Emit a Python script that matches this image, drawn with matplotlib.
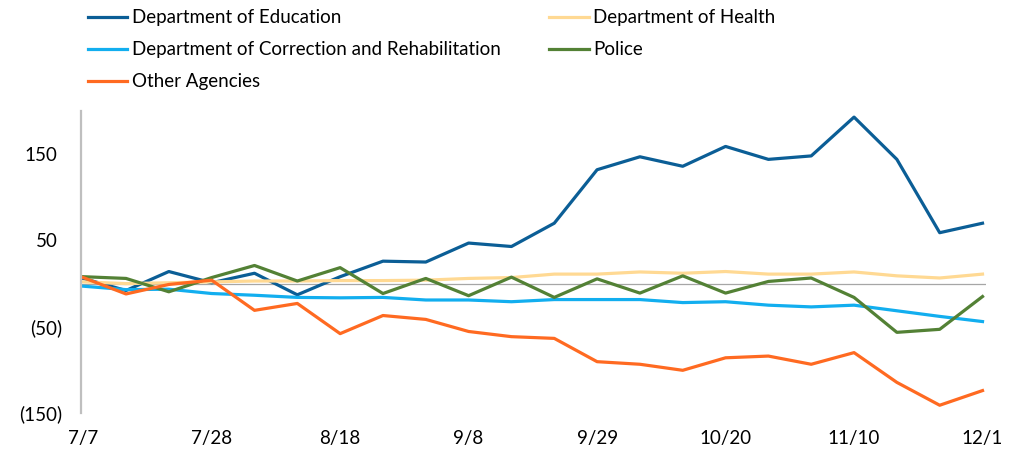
import numpy as np
import matplotlib.pyplot as plt
from matplotlib.transforms import ScaledTranslation

plt.rcParams['font.family'] = ['Lato', 'DejaVu Sans']

# fechas semanales del 7/7 al 12/1
fechas = ['7/7', '7/14', '7/21', '7/28', '8/4', '8/11', '8/18', '8/25', '9/1', '9/8', '9/15',
          '9/22', '9/29', '10/6', '10/13', '10/20', '10/27', '11/3', '11/10', '11/17', '11/24', '12/1']

educacion = [6, -8, 14, 1, 12, -13, 8, 26, 25, 47, 43, 70, 132, 147, 136, 159, 144, 148, 193, 144, 59, 70]
salud = [2, 0, 1, 2, 3, 3, 3.5, 3.5, 4, 6, 7, 11, 11, 13.5, 12, 14, 11, 11, 13.5, 9, 6.5, 11]
correccion = [-3, -7, -6.5, -11.5, -13.5, -16, -16.5, -16, -19, -19, -21, -18.5, -18.5, -18.5, -22, -21, -25, -27, -25, -31.5, -38, -44]
policia = [8, 6, -9.5, 7, 21, 3, 18.5, -11.5, 6, -14, 7.5, -16, 5.5, -11, 9, -11, 2.5, 6.5, -16, -56.5, -53, -15]
otras = [7, -12, -1, 4, -31, -23, -58, -37, -41.5, -55.5, -61.5, -63.5, -90.5, -93.5, -100.5, -86, -84, -93.5, -80, -114.5, -141, -124]

etiquetas_y = [-150, -50, 50, 150]

x = np.arange(len(fechas))

fig = plt.figure(figsize=(10.22, 4.5), dpi=100)
ax = fig.add_axes([0.0793, 0.0822, 0.885, 0.671])

lw = 2.3
l1, = ax.plot(x, educacion, color='#0B5E96', lw=lw, label='Department of Education')
l2, = ax.plot(x, salud, color='#FFD993', lw=lw, label='Department of Health')
l3, = ax.plot(x, correccion, color='#12AEEF', lw=lw, label='Department of Correction and Rehabilitation')
l4, = ax.plot(x, policia, color='#538135', lw=lw, label='Police')
l5, = ax.plot(x, otras, color='#FF6A21', lw=lw, label='Other Agencies')

# linea en cero
ax.axhline(0, color='#A6A6A6', lw=0.9, zorder=0)

ax.set_xlim(-0.05, 21.07)
ax.set_ylim(-150, 200)
ax.set_xticks(x[::3])
ax.set_xticklabels(fechas[::3])
ax.set_yticks(etiquetas_y)
ax.set_yticklabels([f'({abs(v)})' if v < 0 else str(v) for v in etiquetas_y])

for s in ['top', 'right', 'bottom']:
    ax.spines[s].set_visible(False)
ax.spines['left'].set_color('#BFBFBF')
ax.spines['left'].set_linewidth(1.6)
ax.tick_params(axis='both', length=0, labelsize=13.5, colors='black')
ax.tick_params(axis='x', pad=12)
ax.tick_params(axis='y', pad=13.5)

# los positivos dejan espacio para el parentesis
for t in ax.get_yticklabels():
    if not t.get_text().startswith('('):
        t.set_transform(t.get_transform() + ScaledTranslation(-5 / 100, 0, fig.dpi_scale_trans))

fig.legend(handles=[l1, l3, l5, l2, l4], loc='upper left', bbox_to_anchor=(0.084, 0.984),
           ncol=2, frameon=False, fontsize=13.5, handlelength=2.1, handletextpad=0.25,
           columnspacing=2.6, labelspacing=0.81, borderpad=0.1, borderaxespad=0)

fig.savefig('out.png', dpi=100)
